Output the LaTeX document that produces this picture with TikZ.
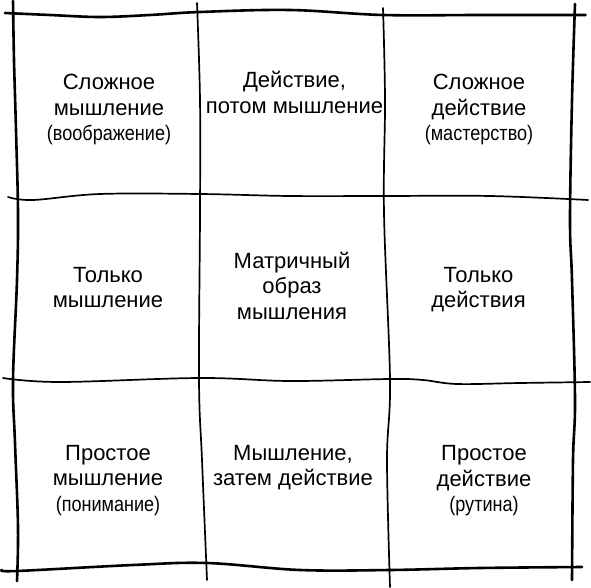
\documentclass[tikz,border=0pt]{standalone}
\usepackage{fontspec}
\setmainfont{Liberation Sans}
\newfontfamily\narrowfont[FakeStretch=0.86]{Liberation Sans}
\newcommand{\cellline}[1]{\strut #1}
\newcommand{\paline}[1]{{\narrowfont\fontsize{21}{25.5}\selectfont\strut #1}}
\begin{document}
\begin{tikzpicture}[x=1pt,y=-1pt,
  outer/.style={line width=2.6pt, line cap=round, line join=round},
  inner/.style={line width=1.7pt, line cap=round, line join=round},
  cell/.style={align=center, inner sep=0pt, font=\fontsize{22}{25.5}\selectfont}]
\useasboundingbox (0,0) rectangle (591,588);
% outer border
\draw[outer] plot[smooth, tension=0.6] coordinates {(5,13) (50,15) (100,17) (150,15) (200,12) (290,10) (383,15) (480,15) (573,15) (585,15)};
\draw[outer] plot[smooth, tension=0.6] coordinates {(13,1) (14,60) (16,130) (18,213) (17,280) (13,380) (15,443) (18,527) (17,581)};
\draw[outer] plot[smooth, tension=0.6] coordinates {(575,4) (572,100) (570,220) (572,280) (575,400) (573,460) (572,580)};
\draw[outer] plot[smooth, tension=0.6] coordinates {(2,570) (17,571) (133,565) (207,563) (300,570) (390,570) (480,568) (582,567)};
% inner lines
\draw[inner] plot[smooth, tension=0.6] coordinates {(197,3) (200,100) (200,213) (199,380) (202,460) (207,580)};
\draw[inner] plot[smooth, tension=0.6] coordinates {(383,8) (385,100) (384,213) (390,380) (387,460) (390,587)};
\draw[inner] plot[smooth, tension=0.6] coordinates {(8,197) (33,200) (100,194) (200,194) (290,196) (383,196) (490,196) (588,200)};
\draw[inner] plot[smooth, tension=0.6] coordinates {(3,378) (60,382) (200,378) (290,381) (390,379) (423,380) (457,384) (520,383) (590,382)};
% texts
\node[cell] (c11) at (109,110) {\cellline{Сложное}\\\cellline{мышление}\\\paline{(воображение)}};
\node[cell] (c12) at (294.5,95.65) {\cellline{Действие,}\\\cellline{потом мышление}};
\node[cell] (c13) at (479,110) {\cellline{Сложное}\\\cellline{действие}\\\paline{(мастерство)}};
\node[cell] (c21) at (108,289.65) {\cellline{Только}\\\cellline{мышление}};
\node[cell] (c22) at (292,288.4) {\cellline{Матричный}\\\cellline{образ}\\\cellline{мышления}};
\node[cell] (c23) at (478.5,289.65) {\cellline{Только}\\\cellline{действия}};
\node[cell] (c31) at (108,480.5) {\cellline{Простое}\\\cellline{мышление}\\\paline{(понимание)}};
\node[cell] (c32) at (293,467.65) {\cellline{Мышление,}\\\cellline{затем действие}};
\node[cell] (c33) at (484,481) {\cellline{Простое}\\\cellline{действие}\\\paline{(рутина)}};
\end{tikzpicture}
\end{document}
